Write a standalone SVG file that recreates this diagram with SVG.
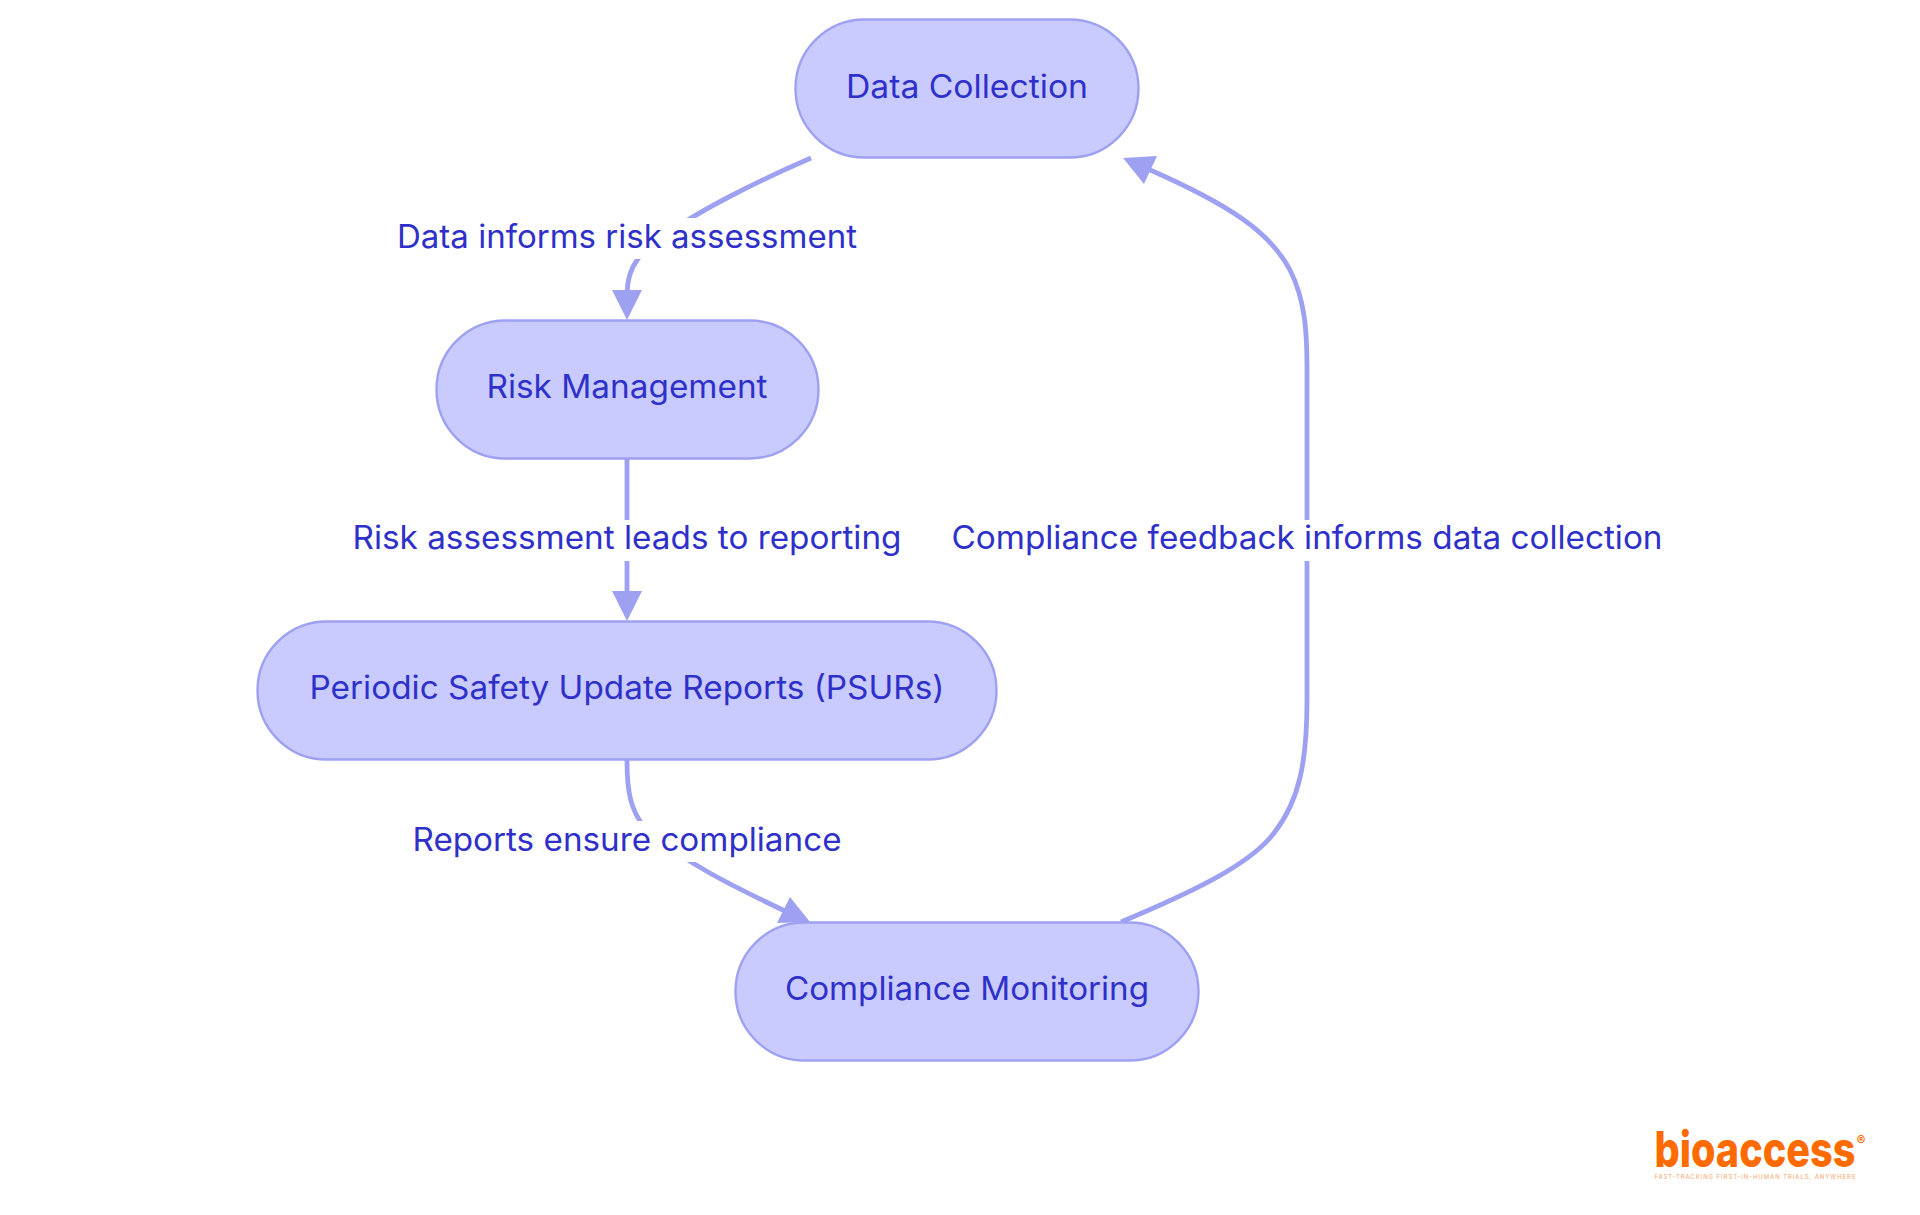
<svg xmlns="http://www.w3.org/2000/svg" width="1920" height="1215" viewBox="0 0 1920 1215">
<style>
text{font-family:"Inter","Noto Sans","Liberation Sans",sans-serif;font-size:32px;fill:#2e30c9;text-anchor:middle}
.n{fill:#c9cbff;stroke:#9ea1f2;stroke-width:2.4}
.e{fill:none;stroke:#9ea1f2;stroke-width:4.8}
.h{fill:#9ea1f2;stroke:none}
.l{fill:#fff;stroke:none}
</style>
<rect width="1920" height="1215" fill="#fff"/>
<g id="connectors">
<path class="e" d="M811,158 C760,180 700,210 670,232 C640,252 627,265 627,295"/>
<polygon class="h" points="627,320 612,290 642,290"/>
<path class="e" d="M627,459 L627,595"/>
<polygon class="h" points="627,621 612,591 642,591"/>
<path class="e" d="M627,760 C627,790 630,810 645,828 C680,860 730,885 785,911"/>
<polygon class="h" points="810,922 790,897 777,923"/>
<path class="e" d="M1121,922 C1190,893 1250,865 1274,833 C1300,800 1307,760 1307,700 L1307,370 C1307,330 1305,300 1290,270 C1270,232 1230,205 1148,169"/>
<polygon class="h" points="1123,158 1157,156 1144,184"/>
</g>
<g id="edge-labels">
<g id="label-data-risk"><rect class="l" x="397" y="218" width="460" height="41"/><text x="627" y="248" textLength="460" lengthAdjust="spacingAndGlyphs">Data informs risk assessment</text></g>
<g id="label-risk-psur"><rect class="l" x="353" y="520" width="549" height="41"/><text x="627" y="549" textLength="549" lengthAdjust="spacingAndGlyphs">Risk assessment leads to reporting</text></g>
<g id="label-psur-comp"><rect class="l" x="413" y="821" width="429" height="41"/><text x="627" y="851" textLength="429" lengthAdjust="spacingAndGlyphs">Reports ensure compliance</text></g>
<g id="label-comp-data"><rect class="l" x="952" y="520" width="711" height="41"/><text x="1307" y="549" textLength="711" lengthAdjust="spacingAndGlyphs">Compliance feedback informs data collection</text></g>
</g>
<g id="node-data"><rect class="n" x="795.5" y="19.5" width="343" height="138" rx="69" ry="69"/><text x="967" y="98" textLength="242" lengthAdjust="spacingAndGlyphs">Data Collection</text></g>
<g id="node-risk"><rect class="n" x="436.5" y="320.5" width="382" height="138" rx="69" ry="69"/><text x="627" y="398" textLength="281" lengthAdjust="spacingAndGlyphs">Risk Management</text></g>
<g id="node-psur"><rect class="n" x="257.5" y="621.5" width="739" height="138" rx="69" ry="69"/><text x="627" y="699" textLength="635" lengthAdjust="spacingAndGlyphs">Periodic Safety Update Reports (PSURs)</text></g>
<g id="node-comp"><rect class="n" x="735.5" y="922.5" width="463" height="138" rx="69" ry="69"/><text x="967" y="1000" textLength="364" lengthAdjust="spacingAndGlyphs">Compliance Monitoring</text></g>
<g id="logo">
<text x="1755" y="1167" textLength="201" lengthAdjust="spacingAndGlyphs" style="font-size:50px;font-weight:800;fill:#ff6b00">bioaccess</text>
<text x="1861" y="1145" style="font-size:13px;font-weight:700;fill:#ff6b00">®</text>
<text x="1755" y="1179" textLength="201" style="font-size:6px;fill:#f8a66e">FAST-TRACKING FIRST-IN-HUMAN TRIALS, ANYWHERE</text>
</g>
</svg>
